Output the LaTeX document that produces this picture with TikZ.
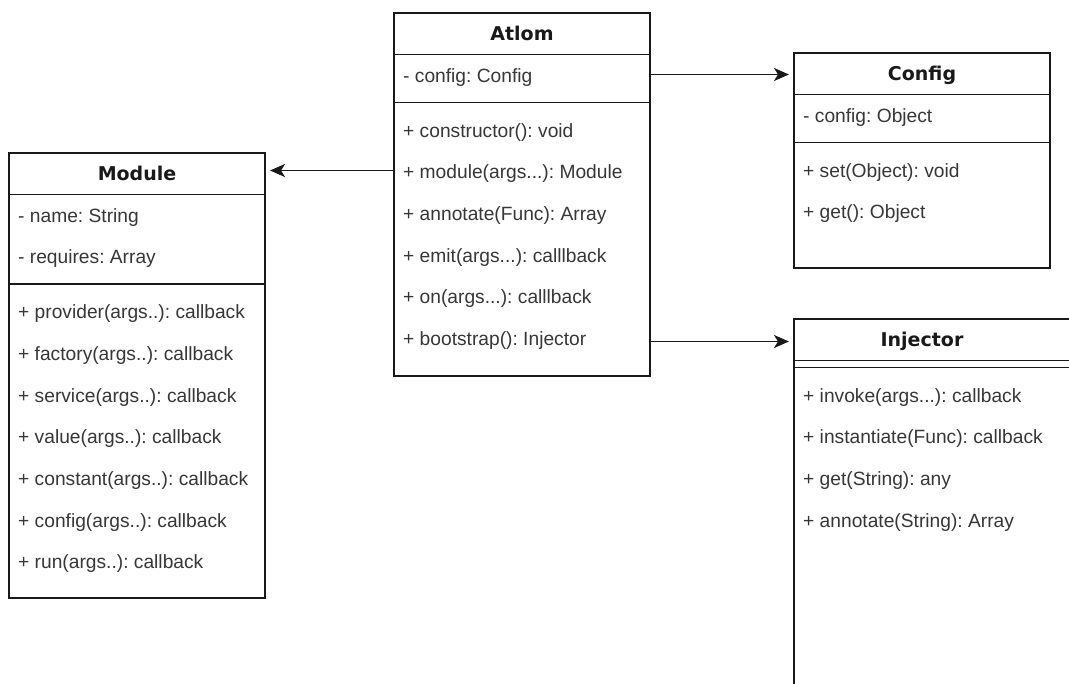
\documentclass[tikz,border=0pt]{standalone}
\usepackage{fontspec}
\setmainfont{Liberation Sans}
\newfontfamily\headfont{DejaVu Sans}
\usetikzlibrary{arrows.meta,calc}

\definecolor{linecol}{RGB}{25,25,25}
\definecolor{bodytext}{RGB}{55,55,55}
\definecolor{headtext}{RGB}{25,25,25}

\frenchspacing
\begin{document}
\begin{tikzpicture}[x=1pt,y=-1pt,
  classbox/.style={draw=linecol, line width=1.8pt, fill=white,
    minimum width=256pt, anchor=north west, inner sep=0pt, outer sep=0pt},
  sepline/.style={draw=linecol, line width=1.8pt},
  titletext/.style={anchor=base, inner sep=0pt, text=headtext,
    font=\headfont\bfseries\fontsize{19}{23}\selectfont},
  rowtext/.style={anchor=base west, inner sep=0pt, text=bodytext,
    font=\fontsize{19.2}{23}\selectfont},
  assoc/.style={draw=linecol, line width=1.8pt,
    -{Stealth[length=15pt,width=13pt,inset=4pt]}, shorten >=5pt}
]
\useasboundingbox (0,0) rectangle (1069,684);
\clip (0,0) rectangle (1069,684);

% ---------- Atlom ----------
\node[classbox, minimum height=363pt] (atlom) at (394,13) {};
\node[titletext] (atlom-t) at ($(atlom.north)+(0,27.6)$) {Atlom};
\draw[sepline] ($(atlom.north west)+(0,41.6)$) -- ($(atlom.north east)+(0,41.6)$);
\node[rowtext] (atlom-a1) at ($(atlom.north west)+(9,69.2)$) {- config: Config};
\draw[sepline] ($(atlom.north west)+(0,89.6)$) -- ($(atlom.north east)+(0,89.6)$);
\node[rowtext] (atlom-m1) at ($(atlom.north west)+(9,124.4)$) {+ constructor(): void};
\node[rowtext] (atlom-m2) at ($(atlom.north west)+(9,166.0)$) {+ module(args...): Module};
\node[rowtext] (atlom-m3) at ($(atlom.north west)+(9,207.6)$) {+ annotate(Func): Array};
\node[rowtext] (atlom-m4) at ($(atlom.north west)+(9,249.2)$) {+ emit(args...): calllback};
\node[rowtext] (atlom-m5) at ($(atlom.north west)+(9,290.8)$) {+ on(args...): calllback};
\node[rowtext] (atlom-m6) at ($(atlom.north west)+(9,332.4)$) {+ bootstrap(): Injector};

% ---------- Config ----------
\node[classbox, minimum height=215pt] (config) at (794,53) {};
\node[titletext] (config-t) at ($(config.north)+(0,27.6)$) {Config};
\draw[sepline] ($(config.north west)+(0,41.6)$) -- ($(config.north east)+(0,41.6)$);
\node[rowtext] (config-a1) at ($(config.north west)+(9,69.2)$) {- config: Object};
\draw[sepline] ($(config.north west)+(0,89.6)$) -- ($(config.north east)+(0,89.6)$);
\node[rowtext] (config-m1) at ($(config.north west)+(9,124.4)$) {+ set(Object): void};
\node[rowtext] (config-m2) at ($(config.north west)+(9,166.0)$) {+ get(): Object};

% ---------- Module ----------
\node[classbox, minimum height=445pt] (module) at (9,153) {};
\node[titletext] (module-t) at ($(module.north)+(0,27.6)$) {Module};
\draw[sepline] ($(module.north west)+(0,41.6)$) -- ($(module.north east)+(0,41.6)$);
\node[rowtext] (module-a1) at ($(module.north west)+(9,69.2)$) {- name: String};
\node[rowtext] (module-a2) at ($(module.north west)+(9,110.8)$) {- requires: Array};
\draw[sepline] ($(module.north west)+(0,131.2)$) -- ($(module.north east)+(0,131.2)$);
\node[rowtext] (module-m1) at ($(module.north west)+(9,166.0)$) {+ provider(args..): callback};
\node[rowtext] (module-m2) at ($(module.north west)+(9,207.6)$) {+ factory(args..): callback};
\node[rowtext] (module-m3) at ($(module.north west)+(9,249.2)$) {+ service(args..): callback};
\node[rowtext] (module-m4) at ($(module.north west)+(9,290.8)$) {+ value(args..): callback};
\node[rowtext] (module-m5) at ($(module.north west)+(9,332.4)$) {+ constant(args..): callback};
\node[rowtext] (module-m6) at ($(module.north west)+(9,374.0)$) {+ config(args..): callback};
\node[rowtext] (module-m7) at ($(module.north west)+(9,415.6)$) {+ run(args..): callback};

% ---------- Injector (runs past the page edge) ----------
\node[classbox, minimum width=320pt, minimum height=420pt] (injector) at (794,319) {};
\node[titletext] (injector-t) at ($(injector.north west)+(128,27.6)$) {Injector};
\draw[sepline] ($(injector.north west)+(0,41.6)$) -- ($(injector.north east)+(0,41.6)$);
\draw[sepline] ($(injector.north west)+(0,48.6)$) -- ($(injector.north east)+(0,48.6)$);
\node[rowtext] (injector-m1) at ($(injector.north west)+(9,83.4)$) {+ invoke(args...): callback};
\node[rowtext] (injector-m2) at ($(injector.north west)+(9,125.0)$) {+ instantiate(Func): callback};
\node[rowtext] (injector-m3) at ($(injector.north west)+(9,166.6)$) {+ get(String): any};
\node[rowtext] (injector-m4) at ($(injector.north west)+(9,208.2)$) {+ annotate(String): Array};

% ---------- associations ----------
\coordinate (c-src) at (atlom.east |- 0,74.5);
\draw[assoc] (c-src) -- (config.west |- c-src);
\coordinate (m-src) at (atlom.west |- 0,170.5);
\draw[assoc] (m-src) -- (module.east |- m-src);
\coordinate (i-src) at (atlom.east |- 0,341.5);
\draw[assoc] (i-src) -- (injector.west |- i-src);
\end{tikzpicture}
\end{document}
